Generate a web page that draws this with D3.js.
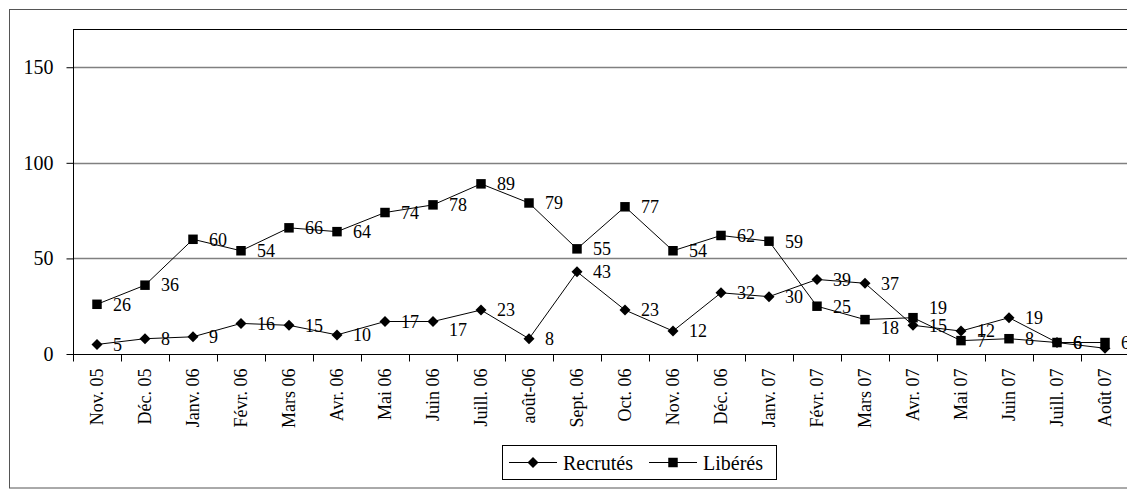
<!DOCTYPE html>
<html><head><meta charset="utf-8">
<script src="https://cdn.jsdelivr.net/npm/d3@7"></script>
<style>
body{margin:0;background:#fff;} svg{display:block;}
svg text{font-family:"Liberation Serif","Times New Roman","DejaVu Serif",serif;fill:#000;}
</style>
</head><body>
<svg id="chart" width="1127" height="496"></svg>
<script>
const categories = ["Nov. 05","Déc. 05","Janv. 06","Févr. 06","Mars 06","Avr. 06","Mai 06","Juin 06","Juill. 06","août-06","Sept. 06","Oct. 06","Nov. 06","Déc. 06","Janv. 07","Févr. 07","Mars 07","Avr. 07","Mai 07","Juin 07","Juill. 07","Août 07"];
const recrutes = [5,8,9,16,15,10,17,17,23,8,43,23,12,32,30,39,37,15,12,19,6,3];
const liberes = [26,36,60,54,66,64,74,78,89,79,55,77,54,62,59,25,18,19,7,8,6,6];
const yTicks = [0,50,100,150];
const seriesNames = ["Recrutés","Libérés"];

// label nudges (style only); null hides a label clipped off in the original
const labelNudgeR = {7: 8, 21: null};
const labelNudgeL = {16: 8, 17: -10};

const svg = d3.select("#chart");
const L = 73, T = 29, B = 354, step = 48;
const R = L + step * categories.length;

// outer border
svg.append("rect").attr("x",9.5).attr("y",9.5).attr("width",1140).attr("height",478.5)
  .attr("fill","none").attr("stroke","#555").attr("stroke-width",1);

const x = d3.scaleBand().domain(categories).range([L,R]).padding(0);
const y = d3.scaleLinear().domain([0,170]).range([B,T]);
const cx = d => x(d) + x.bandwidth()/2;

// gridlines
svg.append("g").selectAll("line").data(yTicks.filter(v=>v>0)).join("line")
  .attr("x1",L).attr("x2",1127).attr("y1",d=>Math.round(y(d))+0.5).attr("y2",d=>Math.round(y(d))+0.5)
  .attr("stroke","#808080").attr("stroke-width",1.5);

// top border of plot
svg.append("line").attr("x1",L).attr("x2",1127).attr("y1",T+0.5).attr("y2",T+0.5).attr("stroke","#000");

// y axis
const yAxis = d3.axisLeft(y).tickValues(yTicks).tickSize(7).tickPadding(13).tickFormat(d3.format("d"));
const gy = svg.append("g").attr("transform",`translate(${L+0.5},0)`).call(yAxis);
gy.attr("font-family",null);
gy.select(".domain").attr("stroke","#000").attr("d",`M0,${T}V${B}`);
gy.selectAll("text").attr("font-size",20).attr("fill","#000");
gy.selectAll(".tick line").attr("stroke","#000");

// x axis
const gx = svg.append("g").attr("transform",`translate(0,${B+0.5})`).call(d3.axisBottom(x).tickSize(0).tickPadding(0));
gx.attr("font-family",null);
gx.select(".domain").attr("stroke","#000").attr("d",`M${L},0H${R}`);
gx.selectAll(".tick text")
  .attr("font-size",18).attr("fill","#000")
  .attr("text-anchor","end").attr("transform","translate(6,14) rotate(-90)").attr("dy",0).attr("y",0).attr("x",0);
const bounds = categories.map(c => x(c)).concat([R]);
gx.append("g").selectAll("line").data(bounds).join("line")
  .attr("x1",d=>Math.round(d)+0.5).attr("x2",d=>Math.round(d)+0.5).attr("y1",0).attr("y2",7).attr("stroke","#000");

// lines
const line = d3.line().x((d,i)=>cx(categories[i])).y(d=>y(d));
svg.append("path").datum(liberes).attr("d",line).attr("fill","none").attr("stroke","#000").attr("stroke-width",1);
svg.append("path").datum(recrutes).attr("d",line).attr("fill","none").attr("stroke","#000").attr("stroke-width",1);

const sq = d3.symbol().type(d3.symbolSquare).size(90);
const diamondPath = "M0,-5.5L5.5,0L0,5.5L-5.5,0Z";

svg.append("g").selectAll("path").data(liberes).join("path")
  .attr("transform",(d,i)=>`translate(${cx(categories[i])},${y(d)})`).attr("d",sq).attr("fill","#000");
svg.append("g").selectAll("path").data(recrutes).join("path")
  .attr("transform",(d,i)=>`translate(${cx(categories[i])},${y(d)})`).attr("d",diamondPath).attr("fill","#000");

// data labels
svg.append("g").selectAll("text").data(liberes).join("text")
  .attr("x",(d,i)=>cx(categories[i])+16).attr("y",(d,i)=>y(d)+(labelNudgeL[i]||0)).attr("dy","0.35em")
  .attr("font-size",18).text(d=>d);
svg.append("g").selectAll("text").data(recrutes.map((v,i)=>({v,i})).filter(d=>labelNudgeR[d.i]!==null)).join("text")
  .attr("x",d=>cx(categories[d.i])+16).attr("y",d=>y(d.v)+(labelNudgeR[d.i]||0)).attr("dy","0.35em")
  .attr("font-size",18).text(d=>d.v);

// legend
const lg = svg.append("g");
lg.append("rect").attr("x",502.5).attr("y",445.5).attr("width",274).attr("height",34)
  .attr("fill","#fff").attr("stroke","#000");
const legItems = [
  {name: seriesNames[0], x0: 509, shape: "d", tx: 563},
  {name: seriesNames[1], x0: 649, shape: "s", tx: 703}
];
legItems.forEach(it=>{
  lg.append("line").attr("x1",it.x0).attr("x2",it.x0+48).attr("y1",462.5).attr("y2",462.5).attr("stroke","#000");
  lg.append("path").attr("transform",`translate(${it.x0+24},462.5)`)
    .attr("d", it.shape==="s" ? sq : diamondPath).attr("fill","#000");
  lg.append("text").attr("x",it.tx).attr("y",462.5).attr("dy","0.35em")
    .attr("font-size",20).text(it.name);
});
</script>
</body></html>
